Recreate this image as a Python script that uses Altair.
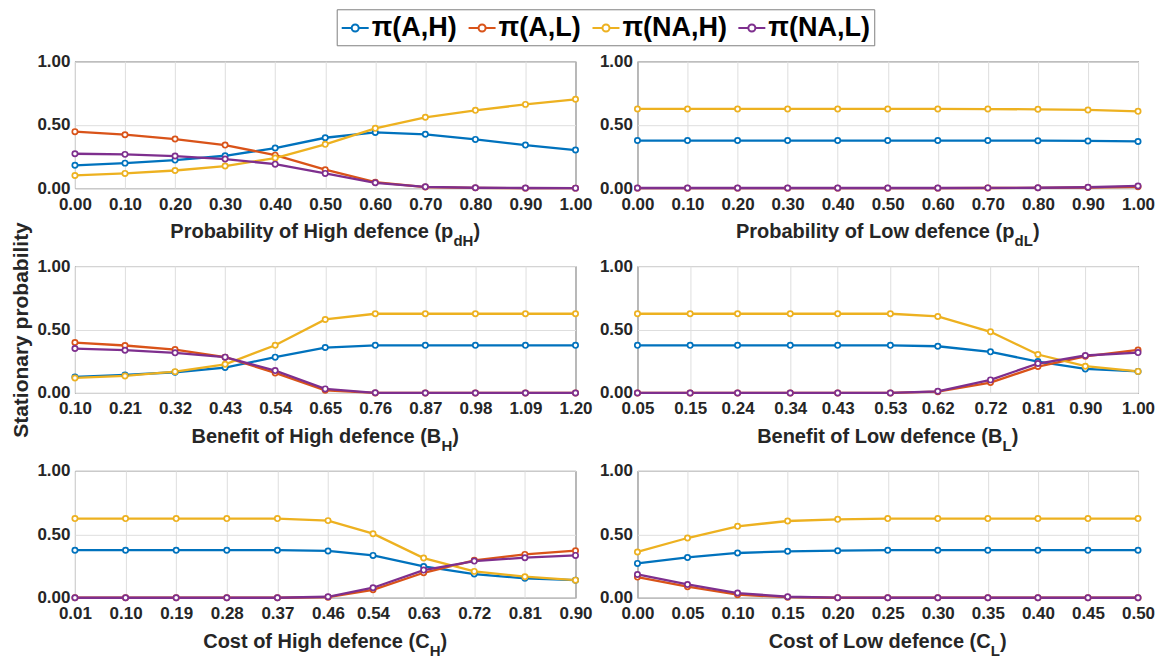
import altair as alt
import pandas as pd

# ---------------- data ----------------
series_names = ["π(A,H)", "π(A,L)", "π(NA,H)", "π(NA,L)"]
series_colors = ["#0072BD", "#D95319", "#EDB120", "#7E2F8E"]

# Panel 1: Probability of High defence (p_dH)
x_pdH = [0.00, 0.10, 0.20, 0.30, 0.40, 0.50, 0.60, 0.70, 0.80, 0.90, 1.00]
pdH_AH = [0.180, 0.197, 0.221, 0.255, 0.316, 0.397, 0.439, 0.424, 0.384, 0.339, 0.300]
pdH_AL = [0.445, 0.421, 0.387, 0.339, 0.260, 0.145, 0.047, 0.008, 0.002, 0.000, 0.000]
pdH_NAH = [0.100, 0.116, 0.139, 0.174, 0.237, 0.345, 0.471, 0.558, 0.613, 0.660, 0.700]
pdH_NAL = [0.271, 0.266, 0.253, 0.229, 0.189, 0.116, 0.042, 0.010, 0.003, 0.001, 0.000]

# Panel 2: Probability of Low defence (p_dL)
x_pdL = [0.00, 0.10, 0.20, 0.30, 0.40, 0.50, 0.60, 0.70, 0.80, 0.90, 1.00]
pdL_AH = [0.375, 0.375, 0.375, 0.375, 0.375, 0.375, 0.375, 0.375, 0.374, 0.372, 0.368]
pdL_AL = [0.000, 0.000, 0.000, 0.000, 0.000, 0.000, 0.000, 0.001, 0.002, 0.005, 0.010]
pdL_NAH = [0.624, 0.624, 0.624, 0.624, 0.624, 0.624, 0.624, 0.623, 0.621, 0.616, 0.605]
pdL_NAL = [0.001, 0.001, 0.001, 0.001, 0.001, 0.001, 0.001, 0.002, 0.003, 0.007, 0.017]

# Panel 3: Benefit of High defence (B_H)
x_BH = [0.10, 0.21, 0.32, 0.43, 0.54, 0.65, 0.76, 0.87, 0.98, 1.09, 1.20]
BH_AH = [0.126, 0.142, 0.163, 0.200, 0.282, 0.358, 0.375, 0.375, 0.375, 0.375, 0.375]
BH_AL = [0.397, 0.374, 0.342, 0.282, 0.158, 0.021, 0.000, 0.000, 0.000, 0.000, 0.000]
BH_NAH = [0.118, 0.134, 0.168, 0.226, 0.376, 0.579, 0.624, 0.624, 0.624, 0.624, 0.624]
BH_NAL = [0.350, 0.337, 0.316, 0.282, 0.176, 0.032, 0.001, 0.000, 0.000, 0.000, 0.000]

# Panel 4: Benefit of Low defence (B_L)
x_BL = [0.05, 0.15, 0.24, 0.34, 0.43, 0.53, 0.62, 0.72, 0.81, 0.90, 1.00]
BL_AH = [0.375, 0.375, 0.375, 0.375, 0.375, 0.375, 0.368, 0.324, 0.247, 0.189, 0.170]
BL_AL = [0.000, 0.000, 0.000, 0.000, 0.000, 0.000, 0.010, 0.082, 0.208, 0.289, 0.339]
BL_NAH = [0.624, 0.624, 0.624, 0.624, 0.624, 0.624, 0.603, 0.482, 0.303, 0.211, 0.170]
BL_NAL = [0.000, 0.000, 0.000, 0.000, 0.000, 0.000, 0.013, 0.103, 0.232, 0.295, 0.318]

# Panel 5: Cost of High defence (C_H)
x_CH = [0.01, 0.10, 0.19, 0.28, 0.37, 0.46, 0.54, 0.63, 0.72, 0.81, 0.90]
CH_AH = [0.375, 0.375, 0.375, 0.375, 0.375, 0.369, 0.334, 0.247, 0.187, 0.153, 0.139]
CH_AL = [0.000, 0.000, 0.000, 0.000, 0.000, 0.005, 0.063, 0.197, 0.295, 0.342, 0.371]
CH_NAH = [0.624, 0.624, 0.624, 0.624, 0.624, 0.608, 0.505, 0.313, 0.208, 0.166, 0.139]
CH_NAL = [0.000, 0.000, 0.000, 0.000, 0.000, 0.008, 0.079, 0.218, 0.289, 0.316, 0.334]

# Panel 6: Cost of Low defence (C_L)
x_CL = [0.00, 0.05, 0.10, 0.15, 0.20, 0.25, 0.30, 0.35, 0.40, 0.45, 0.50]
CL_AH = [0.271, 0.318, 0.353, 0.366, 0.371, 0.375, 0.375, 0.375, 0.375, 0.375, 0.375]
CL_AL = [0.163, 0.087, 0.024, 0.005, 0.000, 0.000, 0.000, 0.000, 0.000, 0.000, 0.000]
CL_NAH = [0.361, 0.471, 0.563, 0.605, 0.618, 0.624, 0.624, 0.624, 0.624, 0.624, 0.624]
CL_NAL = [0.184, 0.105, 0.037, 0.008, 0.001, 0.000, 0.000, 0.000, 0.000, 0.000, 0.000]

# titles: (main text, subscript, closing)
titles = [
    ("Probability of High defence (p", "dH", ")"),
    ("Probability of Low defence (p", "dL", ")"),
    ("Benefit of High defence (B", "H", ")"),
    ("Benefit of Low defence (B", "L", ")"),
    ("Cost of High defence (C", "H", ")"),
    ("Cost of Low defence (C", "L", ")"),
]
y_ticks = [0.0, 0.5, 1.0]

panels = [
    (x_pdH, [pdH_AH, pdH_AL, pdH_NAH, pdH_NAL]),
    (x_pdL, [pdL_AH, pdL_AL, pdL_NAH, pdL_NAL]),
    (x_BH, [BH_AH, BH_AL, BH_NAH, BH_NAL]),
    (x_BL, [BL_AH, BL_AL, BL_NAH, BL_NAL]),
    (x_CH, [CH_AH, CH_AL, CH_NAH, CH_NAL]),
    (x_CL, [CL_AH, CL_AL, CL_NAH, CL_NAL]),
]

# ---------------- style ----------------
FONT = "Liberation Sans"
W, H = 501, 127
TICK_FS = 17
TITLE_FS = 20
SUB_FS = 15
DARK = "#262626"

# Arial/Liberation Sans Bold advance widths (per 1000 em) for title layout
ADV = {' ': 278, '(': 333, ')': 333, 'A': 722, 'B': 722, 'C': 722, 'H': 722, 'L': 611,
       'P': 667, 'a': 556, 'b': 611, 'c': 556, 'd': 611, 'e': 556, 'f': 333, 'g': 611,
       'h': 611, 'i': 278, 'l': 278, 'n': 611, 'o': 611, 'p': 611, 'r': 389, 's': 556,
       't': 333, 'w': 778, 'y': 556}


def text_w(s, fs):
    return sum(ADV.get(c, 556) for c in s) * fs / 1000.0


legend_path = ("M-1,0H-0.26M0.26,0H1M0.26,0A0.26,0.26,0,1,1,-0.26,0"
               "A0.26,0.26,0,1,1,0.26,0Z")


def make_panel(i):
    xs, ys = panels[i]
    rows = []
    for name, vals in zip(series_names, ys):
        for xv, yv in zip(xs, vals):
            rows.append({"x": xv, "y": yv, "series": name})
    df = pd.DataFrame(rows)

    ytitle = "Stationary probability" if i == 2 else None
    yaxis_kwargs = dict(values=y_ticks, format=".2f", tickCount=3)
    if ytitle:
        yaxis = alt.Axis(title=ytitle, titleFontSize=21, titleFont=FONT,
                         titleFontWeight="bold", titleColor=DARK, titlePadding=5,
                         **yaxis_kwargs)
    else:
        yaxis = alt.Axis(title=None, **yaxis_kwargs)

    lines = alt.Chart(df).mark_line(
        strokeWidth=2.3,
        point=alt.OverlayMarkDef(filled=False, fill="white", size=28, strokeWidth=1.7),
    ).encode(
        x=alt.X("x:Q", scale=alt.Scale(domain=[xs[0], xs[-1]], nice=False, zero=False),
                axis=alt.Axis(values=xs, format=".2f", title=None, labelOverlap=False,
                              labelFlush=False)),
        y=alt.Y("y:Q", scale=alt.Scale(domain=[0, 1], nice=False), axis=yaxis),
        color=alt.Color("series:N", sort=series_names,
                        scale=alt.Scale(domain=series_names, range=series_colors),
                        legend=alt.Legend(title=None, orient="none", legendX=262,
                                          legendY=-52, direction="horizontal")),
    )

    main, sub, close = titles[i]
    wm = text_w(main, TITLE_FS)
    ws = text_w(sub, SUB_FS)
    wp = text_w(close, TITLE_FS)
    start = W / 2 - (wm + ws + wp) / 2
    base = H + 50

    def txt(s, x, y, fs):
        return alt.Chart(pd.DataFrame({"t": [s]})).mark_text(
            align="left", baseline="alphabetic", font=FONT, fontWeight="bold",
            fontSize=fs, color=DARK,
        ).encode(text="t:N", x=alt.value(x), y=alt.value(y))

    return alt.layer(
        lines,
        txt(main, start, base, TITLE_FS),
        txt(sub, start + wm, base + 8, SUB_FS),
        txt(close, start + wm + ws, base, TITLE_FS),
    ).properties(width=W, height=H)


chart = alt.concat(
    *[make_panel(i) for i in range(6)],
    columns=2,
    spacing={"row": 78, "column": 62},
    bounds="flush",
).properties(
    padding={"left": 2, "top": 0, "right": 5, "bottom": 0}
).configure_view(
    stroke=DARK, strokeWidth=1
).configure_axis(
    labelFont=FONT, labelFontWeight="bold", labelFontSize=TICK_FS, labelColor=DARK,
    domain=False, ticks=False, labelPadding=5,
    grid=True, gridColor="#dedede", gridWidth=1,
).configure_axisX(
    labelPadding=8
).configure_legend(
    labelFont=FONT, labelFontWeight="bold", labelFontSize=27, labelColor="black",
    symbolType=legend_path, symbolSize=729, symbolStrokeWidth=2,
    symbolFillColor="white", labelOffset=2, columnPadding=7,
    padding=4, strokeColor="#7f7f7f", fillColor="white", labelLimit=300,
)

chart.save("out.html", embed_options={"renderer": "svg", "actions": False})
